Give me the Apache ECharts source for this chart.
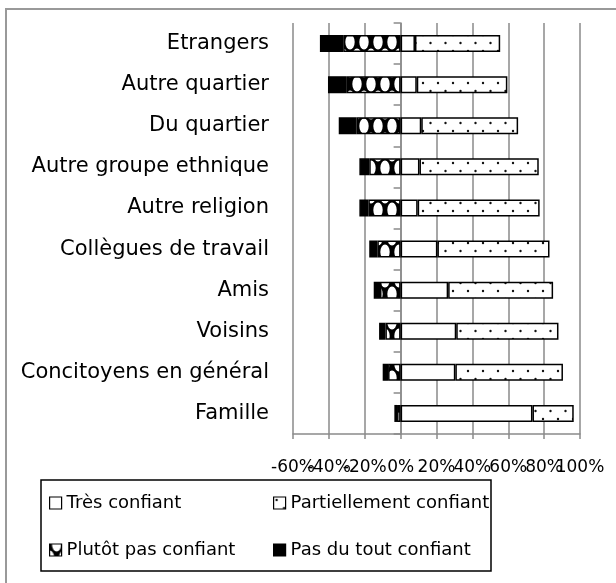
<!DOCTYPE html>
<html><head><meta charset="utf-8">
<script src="https://cdn.jsdelivr.net/npm/echarts@6/dist/echarts.min.js"></script>
<style>html,body{margin:0;padding:0;background:#fff}#c{width:616px;height:583px}</style>
</head><body><div id="c"></div><script>
// ---- data ----
const categories = ['Etrangers','Autre quartier','Du quartier','Autre groupe ethnique','Autre religion','Collègues de travail','Amis','Voisins','Concitoyens en général','Famille'];
const tresConfiant = [8, 9, 11.5, 10.5, 9.5, 20.5, 26.5, 31, 30.5, 73.5];
const partiellementConfiant = [47.5, 50.5, 54, 66.5, 68, 62.5, 58.5, 57, 60, 23];
const plutotPasConfiant = [32, 30, 24.5, 17.5, 18, 13, 11.5, 8.5, 7, 2];
const pasDuToutConfiant = [13, 10.5, 10, 5.5, 5, 4.5, 3.5, 3.5, 3, 1.5];
const seriesNames = ['Très confiant','Partiellement confiant','Plutôt pas confiant','Pas du tout confiant'];
const xMin = -60, xMax = 100, xInterval = 20;

// ---- patterns ----
function dotPattern(){
  const c = document.createElement('canvas'); c.width = 15; c.height = 16;
  const g = c.getContext('2d');
  g.fillStyle = '#fff'; g.fillRect(0,0,15,16);
  g.fillStyle = '#111';
  g.beginPath(); g.arc(3,3,1.2,0,Math.PI*2); g.fill();
  g.beginPath(); g.arc(10.5,11,1.2,0,Math.PI*2); g.fill();
  return c;
}
function ballPattern(){
  const c = document.createElement('canvas'); c.width = 14; c.height = 28;
  const g = c.getContext('2d');
  g.fillStyle = '#000'; g.fillRect(0,0,14,28);
  g.fillStyle = '#fff';
  [[7,0],[7,28],[0,14],[14,14]].forEach(([cx,cy]) => {
    g.beginPath(); g.ellipse(cx, cy, 4.7, 7.4, 0, 0, Math.PI*2); g.fill();
  });
  return c;
}
const dots = {image: dotPattern(), repeat: 'repeat'};
const balls = {image: ballPattern(), repeat: 'repeat'};
const fills = ['#ffffff', dots, balls, '#000000'];

const FONT = 'DejaVu Sans';
const chart = echarts.init(document.getElementById('c'), null, {renderer: 'canvas'});

function mkSeries(i, data){
  return {
    name: seriesNames[i], type: 'bar', stack: 'total', barWidth: 17,
    yAxisIndex: 0, xAxisIndex: 0, data: data,
    itemStyle: {color: fills[i], borderColor: '#000', borderWidth: 1.5},
    emphasis: {disabled: true}, animation: false
  };
}
function mkLegend(i, left, top){
  return {
    show: true, left: left, top: top, orient: 'horizontal',
    data: [{name: seriesNames[i], icon: 'rect', itemStyle: {color: fills[i], borderColor: '#000', borderWidth: 1.2}}],
    itemWidth: 12, itemHeight: 12, itemGap: 5, padding: 0,
    textStyle: {fontFamily: FONT, fontSize: 18, color: '#000', padding: [0,0,0,0]},
    selectedMode: false
  };
}
const labelStyle = {fontFamily: FONT, fontSize: 17, color: '#000', margin: 25,
  showMinLabel: true, showMaxLabel: true, hideOverlap: false};
const isEven = v => Math.round((v - xMin) / xInterval) % 2 === 0;

chart.setOption({
  animation: false,
  backgroundColor: '#fff',
  grid: {left: 293, right: 36, top: 23, bottom: 149, containLabel: false},
  xAxis: [{
    type: 'value', min: xMin, max: xMax, interval: xInterval, position: 'bottom',
    axisLine: {show: true, onZero: false, lineStyle: {color: '#8a8a8a', width: 1.5}},
    axisTick: {show: true, length: 5, lineStyle: {color: '#8a8a8a', width: 1.5}},
    splitLine: {show: true, lineStyle: {color: '#8a8a8a', width: 1.5}},
    axisLabel: Object.assign({formatter: v => isEven(v) ? v + '%' : ''}, labelStyle)
  }, {
    type: 'value', min: xMin, max: xMax, interval: xInterval, position: 'bottom', offset: 0,
    axisLine: {show: false, onZero: false}, axisTick: {show: false}, splitLine: {show: false},
    axisLabel: Object.assign({formatter: v => isEven(v) ? '' : v + '%'}, labelStyle)
  }],
  yAxis: [{
    type: 'category', data: categories, inverse: true,
    axisLine: {show: true, onZero: true, onZeroAxisIndex: 0, lineStyle: {color: '#8a8a8a', width: 1.5}},
    axisTick: {show: true, length: 7, lineStyle: {color: '#8a8a8a', width: 1.5}},
    axisLabel: {show: false}
  }, {
    type: 'category', data: categories, inverse: true, position: 'left',
    axisLine: {show: false, onZero: false}, axisTick: {show: false},
    axisLabel: {show: true, margin: 24, fontFamily: FONT, fontSize: 21, color: '#000'}
  }],
  legend: [
    mkLegend(0, 49, 494), mkLegend(1, 273, 494),
    mkLegend(2, 49, 541), mkLegend(3, 273, 541)
  ],
  graphic: [
    {type: 'rect', shape: {x: 6, y: 9, width: 700, height: 700}, style: {fill: 'none', stroke: '#999', lineWidth: 2}, z: -1},
    {type: 'rect', shape: {x: 41, y: 480, width: 450, height: 91}, style: {fill: 'none', stroke: '#000', lineWidth: 1.5}, z: 10}
  ],
  series: [
    mkSeries(0, tresConfiant),
    mkSeries(1, partiellementConfiant),
    mkSeries(2, plutotPasConfiant.map(v => -v)),
    mkSeries(3, pasDuToutConfiant.map(v => -v))
  ]
});
</script></body></html>
